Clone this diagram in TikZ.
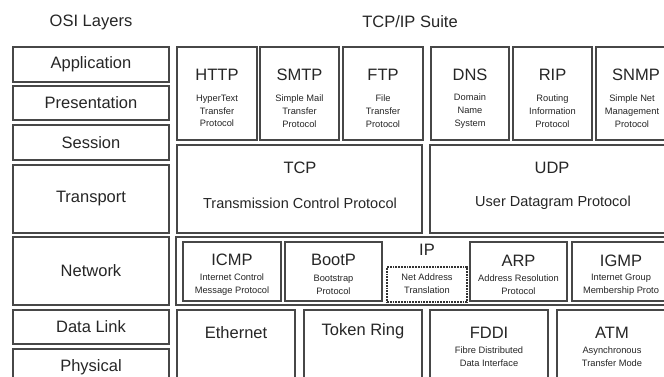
\documentclass[tikz,border=0pt]{standalone}
\usepackage{fontspec}
\setmainfont{Liberation Sans}
\usetikzlibrary{fit}
\definecolor{framegray}{HTML}{474747}
\definecolor{ink}{HTML}{262626}
\begin{document}
\begin{tikzpicture}[x=1pt,y=-1pt,
  frame/.style={draw=framegray, line width=1.3pt, rectangle, inner sep=0pt},
  natframe/.style={frame, draw=black!80, line width=1.1pt, dash pattern=on 1.8pt off 1pt},
  heading/.style={text=ink, font=\fontsize{16.5}{19}\selectfont, inner sep=0pt},
  title/.style={text=ink, font=\fontsize{16.5}{19}\selectfont, inner sep=0pt},
  longname/.style={text=ink, font=\fontsize{14.5}{17}\selectfont, inner sep=0pt},
  sub/.style={text=ink, align=center, font=\fontsize{9.3}{12.8}\selectfont, inner sep=0pt}]
\useasboundingbox (0,0) rectangle (664,377);
\clip (0,0) rectangle (664,377);
\fill[white] (0,0) rectangle (664,377);

% column headings
\node[heading] (osihead) at (91,22) {OSI Layers};
\node[heading] (suitehead) at (410,22) {TCP/IP Suite};

% OSI reference model layers
\node[frame, fit={(13,47) (169,82)}] (app) {};
\node[frame, fit={(13,86) (169,120)}] (pres) {};
\node[frame, fit={(13,125) (169,160)}] (sess) {};
\node[frame, fit={(13,165) (169,233)}] (trans) {};
\node[frame, fit={(13,237) (169,305)}] (net) {};
\node[frame, fit={(13,310) (169,344)}] (dlink) {};
\node[frame, fit={(13,349) (169,392)}] (phys) {};
\node[title] (app-t) at (app.center) {Application};
\node[title] (pres-t) at (pres.center) {Presentation};
\node[title] (sess-t) at (sess.center) {Session};
\node[title] (trans-t) at (trans.center) {Transport};
\node[title] (net-t) at (net.center) {Network};
\node[title] (dlink-t) at (dlink.center) {Data Link};
\node[title] (phys-t) at (91,367) {Physical};

% application protocols
\node[frame, fit={(177,47) (257,140)}] (http) {};
\node[frame, fit={(260,47) (339,140)}] (smtp) {};
\node[frame, fit={(343,47) (423,140)}] (ftp) {};
\node[frame, fit={(431,47) (509,140)}] (dns) {};
\node[frame, fit={(513,47) (592,140)}] (rip) {};
\node[frame, fit={(596,47) (676,140)}] (snmp) {};
\node[title] (http-t) at (217,75) {HTTP};
\node[sub] (http-s) at (217,111) {HyperText\\Transfer\\Protocol};
\node[title] (smtp-t) at (299.5,75) {SMTP};
\node[sub] (smtp-s) at (299.5,111) {Simple Mail\\Transfer\\Protocol};
\node[title] (ftp-t) at (383,75) {FTP};
\node[sub] (ftp-s) at (383,111) {File\\Transfer\\Protocol};
\node[title] (dns-t) at (470,75) {DNS};
\node[sub] (dns-s) at (470,111) {Domain\\Name\\System};
\node[title] (rip-t) at (552.5,75) {RIP};
\node[sub] (rip-s) at (552.5,111) {Routing\\Information\\Protocol};
\node[title] (snmp-t) at (636,75) {SNMP};
\node[sub] (snmp-s) at (632,111) {Simple Net\\Management\\Protocol};

% transport protocols
\node[frame, fit={(177,145) (422,233)}] (tcp) {};
\node[frame, fit={(430,145) (676,233)}] (udp) {};
\node[title] (tcp-t) at (300,168) {TCP};
\node[longname] (tcp-s) at (300,203) {Transmission Control Protocol};
\node[title] (udp-t) at (552,168) {UDP};
\node[longname] (udp-s) at (553,203) {User Datagram Protocol};

% internet layer
\node[frame, fit={(176,237) (680,305)}] (iplayer) {};
\node[frame, fit={(183,242) (281,301)}] (icmp) {};
\node[frame, fit={(285,242) (382,301)}] (bootp) {};
\node[natframe, fit={(387,267) (467,302)}] (nat) {};
\node[frame, fit={(470,242) (567,301)}] (arp) {};
\node[frame, fit={(572,242) (676,301)}] (igmp) {};
\node[title] (icmp-t) at (232,260) {ICMP};
\node[sub] (icmp-s) at (232,284.5) {Internet Control\\Message Protocol};
\node[title] (bootp-t) at (333.5,260) {BootP};
\node[sub] (bootp-s) at (333.5,284.5) {Bootstrap\\Protocol};
\node[title] (ip-t) at (427,250) {IP};
\node[sub] (nat-s) at (427,283.5) {Net Address\\Translation};
\node[title] (arp-t) at (518.5,261) {ARP};
\node[sub] (arp-s) at (518.5,284.5) {Address Resolution\\Protocol};
\node[title] (igmp-t) at (621,261) {IGMP};
\node[sub] (igmp-s) at (621,284.5) {Internet Group\\Membership Proto};

% link technologies
\node[frame, fit={(177,310) (295,392)}] (eth) {};
\node[frame, fit={(304,310) (422,392)}] (token) {};
\node[frame, fit={(430,310) (548,392)}] (fddi) {};
\node[frame, fit={(557,310) (670,392)}] (atm) {};
\node[title] (eth-t) at (236,333) {Ethernet};
\node[title] (token-t) at (363,331) {Token Ring};
\node[title] (fddi-t) at (489,333) {FDDI};
\node[sub] (fddi-s) at (489,357) {Fibre Distributed\\Data Interface};
\node[title] (atm-t) at (612,333) {ATM};
\node[sub] (atm-s) at (612,357) {Asynchronous\\Transfer Mode};
\end{tikzpicture}
\end{document}
